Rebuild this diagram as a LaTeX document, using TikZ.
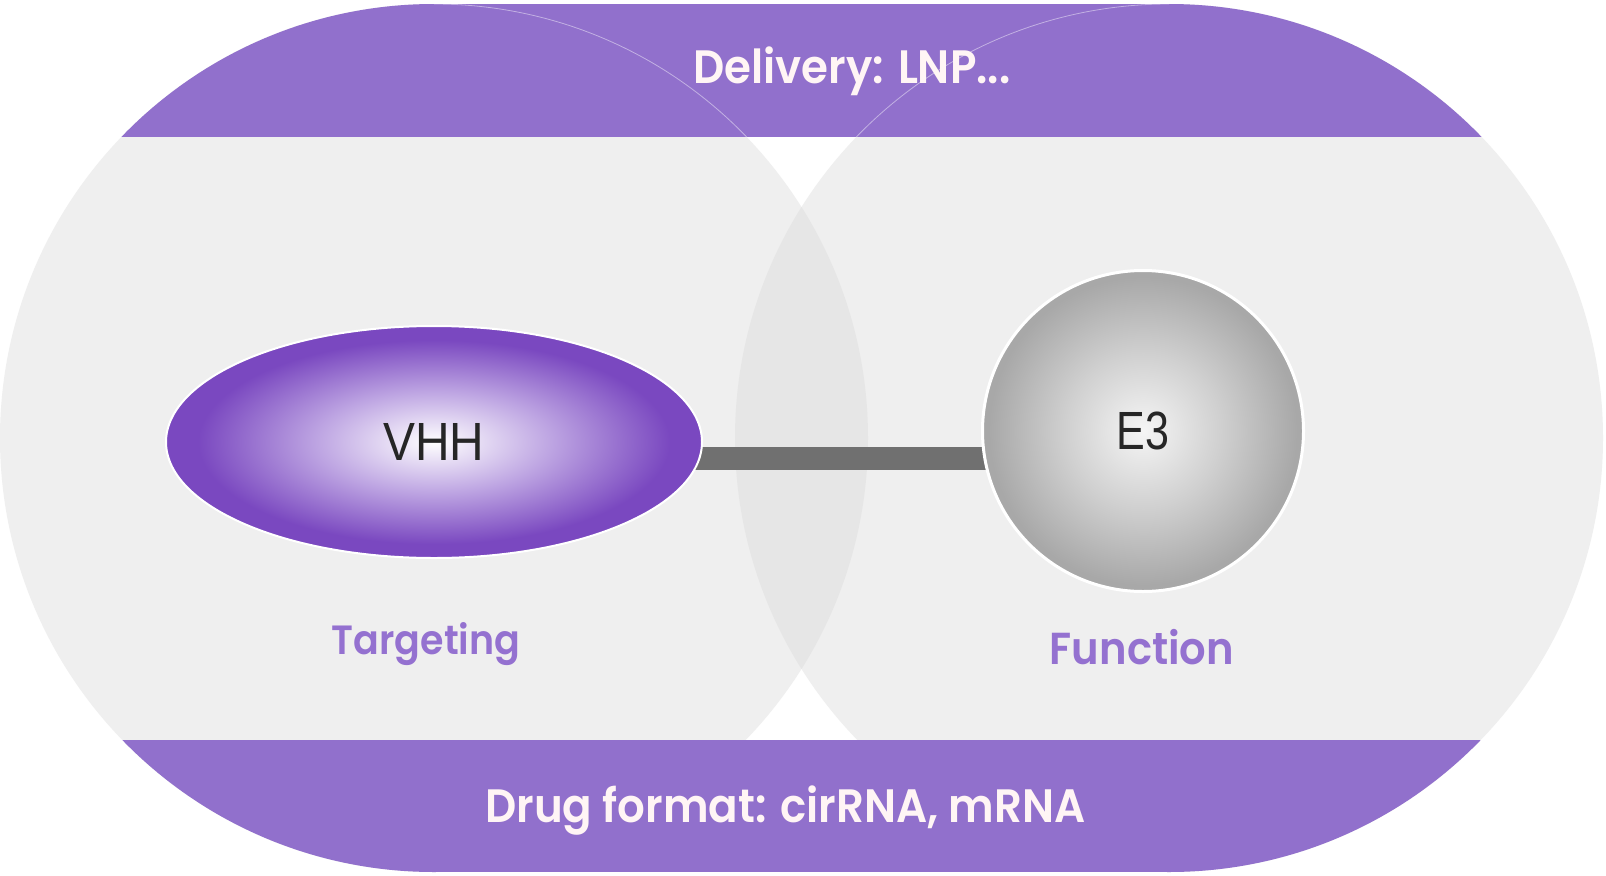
\documentclass[tikz,border=0pt]{standalone}
\usepackage{fontspec}
\setmainfont{Poppins}
\newfontfamily\headfont{Poppins SemiBold}[FakeStretch=0.93]
\newfontfamily\molfont{Liberation Sans}[FakeStretch=0.8]
\newfontfamily\molwidefont{Liberation Sans}[FakeStretch=0.89]
\usetikzlibrary{shapes.geometric}

\definecolor{bggray}{HTML}{EFEFEF}
\definecolor{lensgray}{HTML}{E6E6E6}
\definecolor{bandpurple}{HTML}{9170CC}
\definecolor{labelpurple}{HTML}{9471D0}
\definecolor{textwhite}{HTML}{FFF5F5}
\definecolor{bargray}{HTML}{707070}
\definecolor{vhhpurple}{HTML}{7A48C0}
\definecolor{vhhmid}{HTML}{BDA4E2}
\definecolor{e3edge}{HTML}{A8A8A8}
\definecolor{e3mid}{HTML}{D0D0D0}

\pgfdeclareradialshading{vhhglow}{\pgfpoint{0bp}{0bp}}{color(0bp)=(white); color(11bp)=(vhhmid); color(22bp)=(vhhpurple); color(50bp)=(vhhpurple)}
\pgfdeclareradialshading{e3glow}{\pgfpoint{0bp}{0bp}}{color(0bp)=(white!96!black); color(12bp)=(e3mid); color(24bp)=(e3edge); color(50bp)=(e3edge)}

\tikzset{
  band/.style={fill=bandpurple},
  bandtext/.style={font=\headfont\fontsize{47}{50}\selectfont, text=textwhite, anchor=base},
  rolelabel/.style={font=\headfont\fontsize{44}{48}\selectfont, text=labelpurple, anchor=base},
  moltext/.style={font=\molfont\fontsize{54}{56}\selectfont, text=black!85},
  linkbar/.style={draw=bargray, line width=23bp},
}

\begin{document}
\begin{tikzpicture}[x=1bp, y=-1bp]
  \useasboundingbox[fill=white] (0,0) rectangle (1606,875);

  % --- Two overlapping discs (grey) and their lens ---
  \fill[bggray] (434,438) circle[radius=434];
  \fill[bggray] (1169,438) circle[radius=434];
  \begin{scope}
    \clip (434,438) circle[radius=434];
    \fill[lensgray] (1169,438) circle[radius=434];
  \end{scope}

  % --- Top band: Delivery ---
  \begin{scope}
    \clip (0,0) rectangle (1606,136);
    \fill[band] (434,438) circle[radius=434];
    \fill[band] (1169,438) circle[radius=434];
    \fill[band] (434,4) rectangle (1169,872);
  \end{scope}
  \begin{scope}
    \clip (434,0) rectangle (1169,136);
    \draw[white, opacity=0.45, line width=0.8bp] (434,438) circle[radius=434];
    \draw[white, opacity=0.45, line width=0.8bp] (1169,438) circle[radius=434];
  \end{scope}

  % --- Bottom band: Drug format ---
  \begin{scope}
    \clip (0,740) rectangle (1606,875);
    \fill[band] (434,438) circle[radius=434];
    \fill[band] (1169,438) circle[radius=434];
    \fill[band] (434,4) rectangle (1169,872);
  \end{scope}

  % --- VHH linked to E3 ---
  \coordinate (vhhc) at (434,442);
  \coordinate (e3c) at (1143,431);
  \draw[linkbar] (vhhc |- 0,458.5) -- (e3c |- 0,458.5);
  \node[ellipse, minimum width=536bp, minimum height=232bp, inner sep=0pt,
        shade, shading=vhhglow, draw=white, line width=2bp, moltext,
        font=\molwidefont\fontsize{54}{56}\selectfont] (vhh) at (vhhc) {VHH};
  \node[circle, minimum size=321bp, inner sep=0pt,
        shade, shading=e3glow, draw=white, line width=3bp, moltext] (e3) at (e3c) {E3};

  % --- Labels ---
  \node[bandtext] (delivery) at (852,83) {Delivery: LNP...};
  \node[bandtext] (format) at (785.5,822) {Drug format: cirRNA, mRNA};
  \node[rolelabel, font=\headfont\fontsize{41}{45}\selectfont] (targeting) at (426,654) {Targeting};
  \node[rolelabel, font=\headfont\fontsize{45}{48}\selectfont] (function) at (1142,664) {Function};
\end{tikzpicture}
\end{document}
